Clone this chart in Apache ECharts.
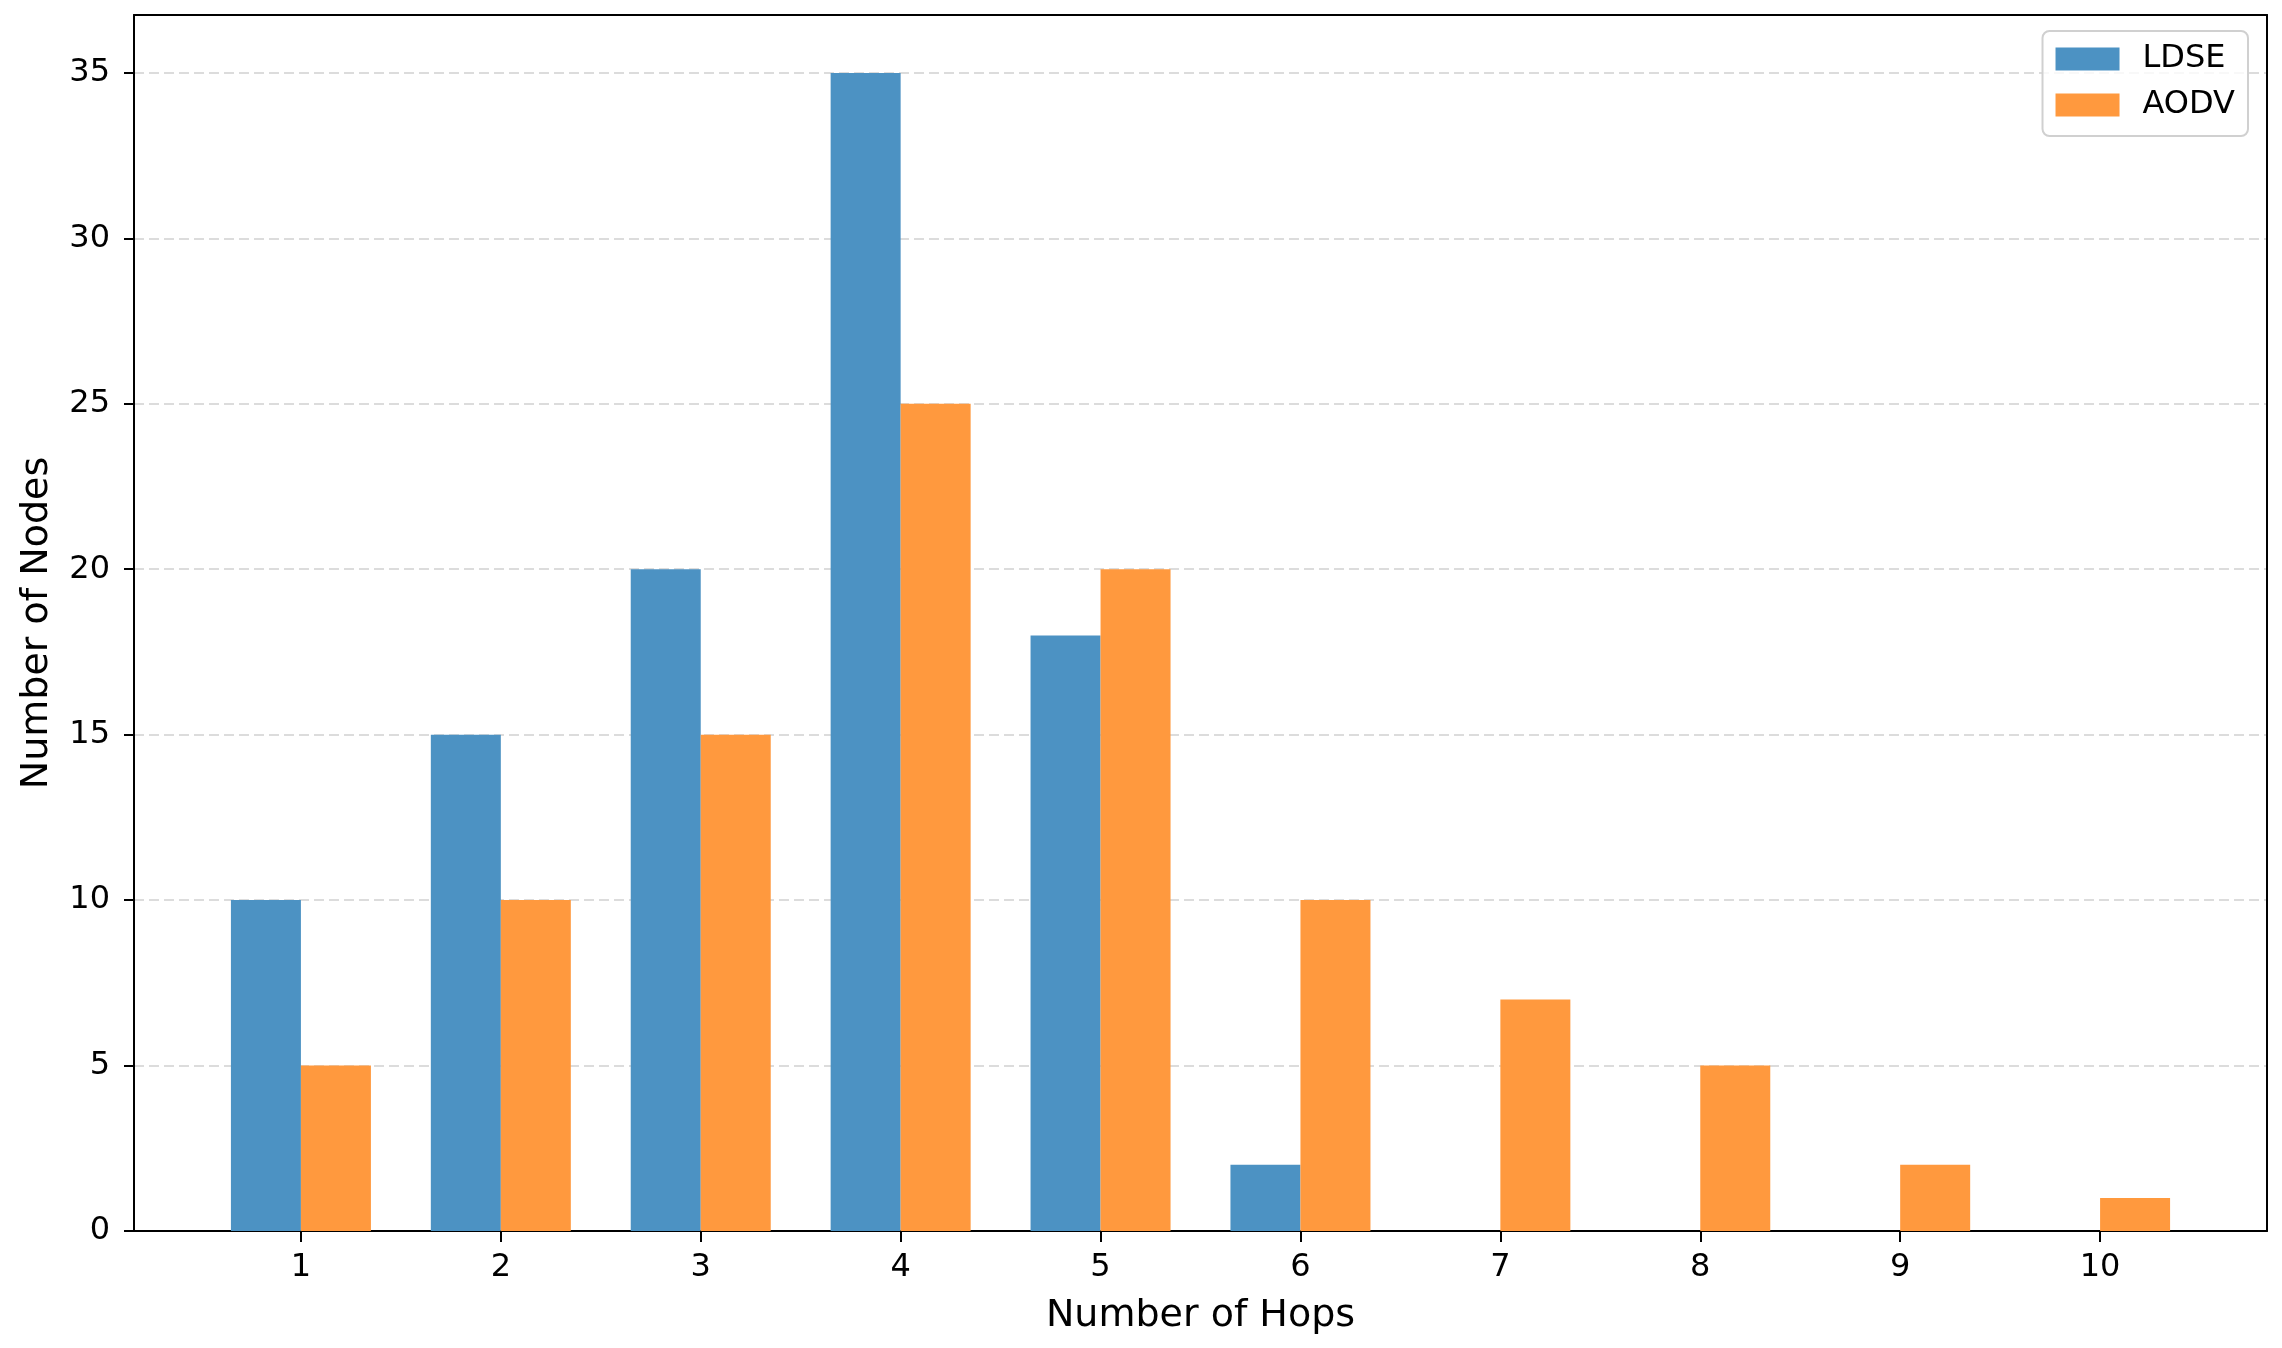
<!DOCTYPE html>
<html>
<head>
<meta charset="utf-8">
<script src="https://cdn.jsdelivr.net/npm/echarts@6/dist/echarts.min.js"></script>
<style>
html,body{margin:0;padding:0;background:#ffffff;}
#chart{width:2282px;height:1348px;}
</style>
</head>
<body>
<div id="chart"></div>
<script>
var hops = [1, 2, 3, 4, 5, 6, 7, 8, 9, 10];
var ldse = [10, 15, 20, 35, 18, 2, 0, 0, 0, 0];
var aodv = [5, 10, 15, 25, 20, 10, 7, 5, 2, 1];
var yTicks = [0, 5, 10, 15, 20, 25, 30, 35];
var seriesNames = ['LDSE', 'AODV'];

var FONT = 'DejaVu Sans';
var chart = echarts.init(document.getElementById('chart'), null, {renderer: 'canvas'});

function pairs(vals) {
  return hops.map(function (h, i) { return [h, vals[i]]; });
}

var option = {
  backgroundColor: '#ffffff',
  animation: false,
  grid: {left: 134, right: 15, top: 15, bottom: 117, containLabel: false},
  legend: {
    data: seriesNames,
    right: 34,
    top: 31,
    orient: 'vertical',
    itemWidth: 64,
    itemHeight: 23,
    itemGap: 14,
    padding: [12, 13, 15, 13],
    backgroundColor: 'rgba(255,255,255,0.8)',
    borderColor: '#d0d0d0',
    borderWidth: 2,
    borderRadius: 7,
    icon: 'rect',
    textStyle: {fontFamily: FONT, fontSize: 32, color: '#000', lineHeight: 32, padding: [0, 0, 0, 18]}
  },
  xAxis: [
    {
      type: 'value',
      min: 0.165,
      max: 10.835,
      position: 'bottom',
      name: 'Number of Hops',
      nameLocation: 'middle',
      nameGap: 66,
      nameTextStyle: {fontFamily: FONT, fontSize: 38, color: '#000'},
      axisLine: {show: true, onZero: false, lineStyle: {color: '#000', width: 2}},
      axisTick: {show: true, length: 11, customValues: hops, lineStyle: {color: '#000', width: 2}},
      axisLabel: {show: true, customValues: hops, margin: 21, fontFamily: FONT, fontSize: 32, color: '#000'},
      splitLine: {show: false}
    },
    {
      type: 'value',
      min: 0.165,
      max: 10.835,
      position: 'top',
      axisLine: {show: true, onZero: false, lineStyle: {color: '#000', width: 2}},
      axisTick: {show: false},
      axisLabel: {show: false},
      splitLine: {show: false}
    }
  ],
  yAxis: [
    {
      type: 'value',
      min: 0,
      max: 36.75,
      interval: 5,
      position: 'left',
      name: 'Number of Nodes',
      nameLocation: 'middle',
      nameGap: 78,
      nameTextStyle: {fontFamily: FONT, fontSize: 38, color: '#000'},
      axisLine: {show: true, onZero: false, lineStyle: {color: '#000', width: 2}},
      axisTick: {show: true, length: 10, customValues: yTicks, lineStyle: {color: '#000', width: 2}},
      axisLabel: {show: true, customValues: yTicks, margin: 24, fontFamily: FONT, fontSize: 32, color: '#000'},
      splitLine: {show: true, lineStyle: {color: '#dcdcdc', width: 2, type: [10, 5]}}
    },
    {
      type: 'value',
      min: 0,
      max: 36.75,
      position: 'right',
      axisLine: {show: true, onZero: false, lineStyle: {color: '#000', width: 2}},
      axisTick: {show: false},
      axisLabel: {show: false},
      splitLine: {show: false}
    }
  ],
  series: [
    {
      name: seriesNames[0],
      type: 'bar',
      xAxisIndex: 0,
      yAxisIndex: 0,
      barWidth: 70,
      barGap: '0%',
      itemStyle: {color: '#4c92c3'},
      data: pairs(ldse)
    },
    {
      name: seriesNames[1],
      type: 'bar',
      xAxisIndex: 0,
      yAxisIndex: 0,
      barWidth: 70,
      barGap: '0%',
      itemStyle: {color: '#ff993e'},
      data: pairs(aodv)
    }
  ]
};
chart.setOption(option);
</script>
</body>
</html>
